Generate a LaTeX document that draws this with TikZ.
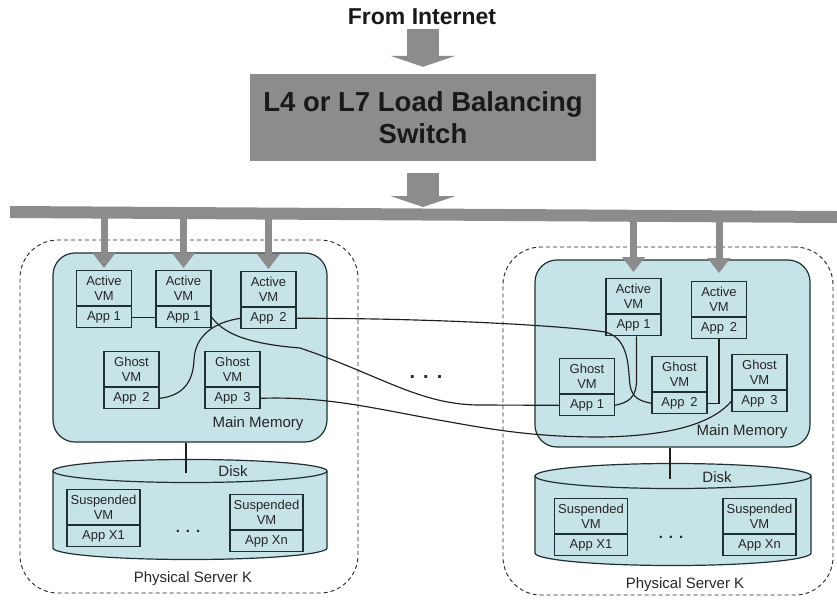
\documentclass[tikz,border=0pt]{standalone}
\usepackage{fontspec}
\setmainfont{Liberation Sans}
\usetikzlibrary{arrows.meta}
\definecolor{memfill}{HTML}{C6E3E8}
\definecolor{boxline}{HTML}{1E3034}
\definecolor{netgray}{HTML}{8C8C8C}
\definecolor{inkgray}{HTML}{262626}

\begin{document}
\begin{tikzpicture}[x=1pt,y=-1pt,
  vmtop/.style={draw=boxline, fill=memfill, line width=1.2pt, minimum width=55pt,
    minimum height=35pt, inner sep=0pt, align=center,
    font=\fontsize{13}{14.5}\selectfont, text=inkgray, anchor=north},
  vmbot/.style={vmtop, minimum height=21pt},
  susptop/.style={vmtop, minimum width=73pt},
  suspbot/.style={vmbot, minimum width=73pt},
  memory/.style={draw=boxline, fill=memfill, line width=1.2pt, rounded corners=22pt},
  server/.style={draw=inkgray, dash pattern=on 4pt off 3pt, line width=0.9pt, rounded corners=38pt},
  disk/.style={draw=boxline, fill=memfill, line width=1.2pt},
  lbl/.style={font=\fontsize{15}{15}\selectfont, text=inkgray, inner sep=0pt},
  dotrow/.style={font=\fontsize{15}{15}\selectfont\bfseries, text=inkgray, inner sep=0pt},
  link/.style={draw=black!88, line width=1.15pt},
  busarrow/.style={draw=netgray, line width=7pt, -{Triangle[width=22pt,length=15pt]}},
  bigarrow/.style={draw=netgray, line width=32pt, -{Triangle[width=65pt,length=11pt]}}
]
\useasboundingbox (0,0) rectangle (837,603);

% physical servers
\node[server, minimum width=338pt, minimum height=353pt] (lsrv) at (189,416.5) {};
\node[server, minimum width=330pt, minimum height=348pt] (rsrv) at (668,421) {};

% main memories
\node[memory, minimum width=274pt, minimum height=189pt] (lmem) at (190,347.5) {};
\node[memory, minimum width=275pt, minimum height=187pt] (rmem) at (672.5,353.5) {};

% disks (cylinders)
\fill[memfill] (53,471) -- (53,548) arc[start angle=180,end angle=0,x radius=137,y radius=11.5] -- (327,471) -- cycle;
\draw[disk] (53,471) -- (53,548) arc[start angle=180,end angle=0,x radius=137,y radius=11.5] -- (327,471);
\draw[disk] (190,471) ellipse[x radius=137,y radius=11.5];
\coordinate (ldisk) at (186,473);

\fill[memfill] (535,476) -- (535,553) arc[start angle=180,end angle=0,x radius=138,y radius=12.5] -- (811,476) -- cycle;
\draw[disk] (535,476) -- (535,553) arc[start angle=180,end angle=0,x radius=138,y radius=12.5] -- (811,476);
\draw[disk] (673,476) ellipse[x radius=138,y radius=12.5];
\coordinate (rdisk) at (670,479);

\draw[link] (ldisk |- lmem.south) -- (ldisk);
\draw[link] (rdisk |- rmem.south) -- (rdisk);

% left server VMs
\node[vmtop] (la1t) at (104,270) {Active\\VM};
\node[vmbot] (la1) at (la1t.south) {App 1};
\node[vmtop] (la2t) at (183.5,270) {Active\\VM};
\node[vmbot] (la2) at (la2t.south) {App 1};
\node[vmtop] (la3t) at (268.5,271) {Active\\VM};
\node[vmbot] (la3) at (la3t.south) {App\, 2};
\node[vmtop] (lgAt) at (131.5,351) {Ghost\\VM};
\node[vmbot] (lgA) at (lgAt.south) {App\, 2};
\node[vmtop] (lgBt) at (232.5,351) {Ghost\\VM};
\node[vmbot] (lgB) at (lgBt.south) {App\, 3};

% right server VMs
\node[vmtop] (ra1t) at (633.5,278) {Active\\VM};
\node[vmbot] (ra1) at (ra1t.south) {App 1};
\node[vmtop] (ra2t) at (719,281) {Active\\VM};
\node[vmbot] (ra2) at (ra2t.south) {App\, 2};
\node[vmtop] (rg1t) at (587,358) {Ghost\\VM};
\node[vmbot] (rg1) at (rg1t.south) {App 1};
\node[vmtop] (rg2t) at (679.5,356) {Ghost\\VM};
\node[vmbot] (rg2) at (rg2t.south) {App\, 2};
\node[vmtop] (rg3t) at (759.5,354) {Ghost\\VM};
\node[vmbot] (rg3) at (rg3t.south) {App\, 3};

% suspended VMs on disk
\node[susptop] (ls1t) at (103.5,489) {Suspended\\VM};
\node[suspbot] (ls1) at (ls1t.south) {App X1};
\node[susptop] (ls2t) at (266.5,494) {Suspended\\VM};
\node[suspbot] (ls2) at (ls2t.south) {App Xn};
\node[susptop] (rs1t) at (591,498) {Suspended\\VM};
\node[suspbot] (rs1) at (rs1t.south) {App X1};
\node[susptop] (rs2t) at (759.5,498) {Suspended\\VM};
\node[suspbot] (rs2) at (rs2t.south) {App Xn};

% links between application instances
\draw[link] (la1.east) -- (la2.west);
\draw[link] (la2.east) .. controls (222,330) and (238,343) .. (300,348)
  .. controls (380,375) and (420,405) .. (480,405) -- (rg1.west);
\draw[link] (la3.east) .. controls (420,318) and (560,325) .. (605,332)
  .. controls (630,338) and (628,370) .. (630,385)
  .. controls (632,398) and (640,401) .. (rg2.west);
\draw[link] ([xshift=3pt]ra1.south) -- (636.5,380)
  .. controls (636.5,398) and (628,402.5) .. (rg1.east);
\draw[link] (ra2.south) |- (rg2.east);
\draw[link] (lgB.east) .. controls (330,396) and (380,410) .. (450,422)
  .. controls (500,431) and (540,437) .. (600,437)
  .. controls (680,436) and (715,420) .. (rg3.west);
\draw[link] (la3.west) .. controls (215,322) and (195,335) .. (194,360)
  .. controls (193,385) and (180,396) .. (lgA.east);

% labels
\node[lbl] (lmemlbl) at (258,424) {Main Memory};
\node[lbl] (rmemlbl) at (742,432) {Main Memory};
\node[lbl] (ldisklbl) at (233,471) {Disk};
\node[lbl] (rdisklbl) at (717,477) {Disk};
\node[lbl] (lsrvlbl) at (193,579) {Physical Server K};
\node[lbl] (rsrvlbl) at (685,585) {Physical Server K};
\node[dotrow] (ldots) at (188,531) {.\hspace{6pt}.\hspace{6pt}.};
\node[dotrow] (rdots) at (671,537) {.\hspace{6pt}.\hspace{6pt}.};
\node[dotrow, font=\fontsize{20}{20}\selectfont\bfseries] (mdots) at (426,377) {.\hspace{8pt}.\hspace{8pt}.};

% arrows from the network bus down to the active VMs
\coordinate (bus) at (0,214);
\draw[busarrow, shorten >=2pt] (la1t.north |- bus) -- (la1t.north);
\draw[busarrow, shorten >=2pt] (la2t.north |- bus) -- (la2t.north);
\draw[busarrow, shorten >=2pt] (la3t.north |- bus) -- (la3t.north);
\draw[busarrow, shorten >=6pt] (ra1t.north |- bus) -- (ra1t.north);
\draw[busarrow, shorten >=8pt] (ra2t.north |- bus) -- (ra2t.north);

% network bus
\fill[netgray] (10,206) -- (837,211) -- (837,223) -- (10,218) -- cycle;

% internet entry and load balancing switch
\node[font=\fontsize{23}{23}\selectfont\bfseries, text=black!90, inner sep=0pt] (inet) at (422,17) {From Internet};
\node[fill=netgray, minimum width=346pt, minimum height=87pt, align=center,
  font=\fontsize{27.5}{32}\selectfont\bfseries, text=black!90] (sw) at (423,117.5)
  {L4 or L7 Load Balancing\\Switch};
\coordinate (bustop) at (0,207);
\draw[bigarrow, shorten <=4pt, shorten >=7pt] (inet.south -| sw.north) -- (sw.north);
\draw[bigarrow, shorten <=12pt] (sw.south) -- (sw.south |- bustop);
\end{tikzpicture}
\end{document}
